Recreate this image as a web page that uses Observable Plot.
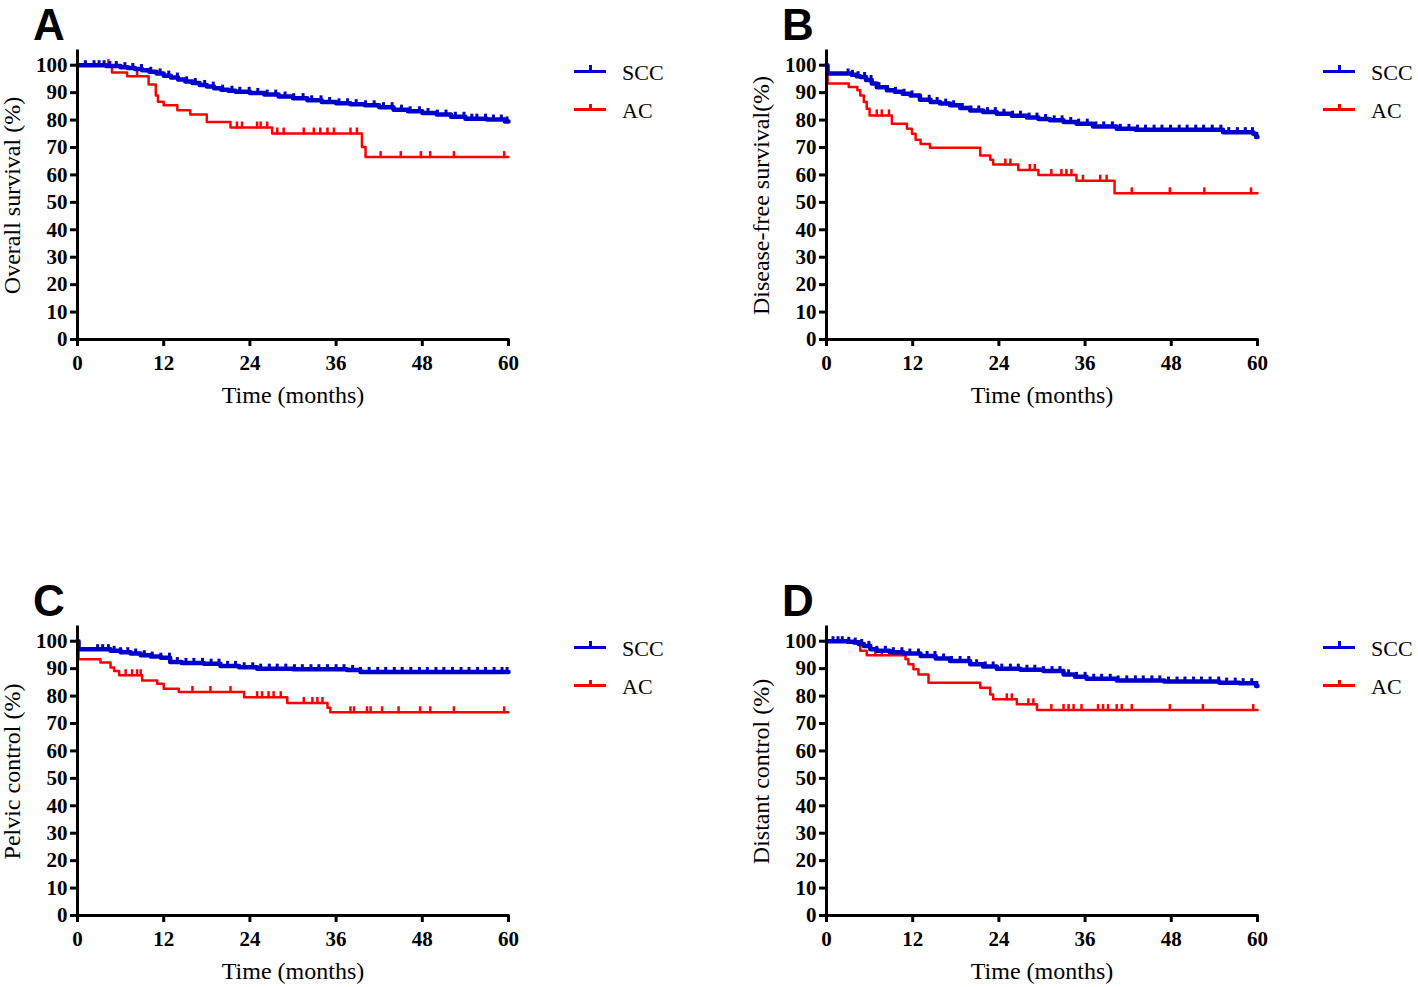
<!DOCTYPE html>
<html><head><meta charset="utf-8">
<script src="https://cdn.jsdelivr.net/npm/d3@7"></script>
<script src="https://cdn.jsdelivr.net/npm/@observablehq/plot@0.6"></script>
<style>
body{margin:0;background:#fff;}
#root{position:relative;width:1418px;height:987px;background:#fff;overflow:hidden;font-family:"Liberation Serif","Times New Roman",serif;}
.panel{position:absolute;width:709px;height:420px;}
.panel svg{max-width:none !important;width:709px;height:420px;}
.letter{position:absolute;font-family:"Liberation Sans",Arial,sans-serif;font-weight:bold;font-size:44px;line-height:38px;}
.sw{position:absolute;width:32px;height:3px;}
.tk{position:absolute;width:3px;height:7px;}
.lb{position:absolute;font-size:22px;line-height:1;color:#000;}
</style></head><body><div id="root"></div>
<script>
// ---------- shared labels ----------
const months = [0, 12, 24, 36, 48, 60];
const percentTicks = [0, 10, 20, 30, 40, 50, 60, 70, 80, 90, 100];
const groups = ["SCC", "AC"];
const groupColors = ["#0000cc", "#ff0000"];
const panelLetters = ["A", "B", "C", "D"];
const yTitles = ["Overall survival (%)", "Disease-free survival(%)", "Pelvic control (%)", "Distant control (%)"];
const xTitle = "Time (months)";

// ---------- A: overall survival ----------
const osSccTime = [0, 4, 6, 7, 8, 9, 10, 11, 12, 13, 14, 15, 16, 17, 18, 19, 20, 21, 22, 24, 26, 28, 30, 32, 34, 36, 38, 40, 42, 44, 46, 48, 50, 52, 54, 57, 59.5, 60];
const osSccSurv = [100, 99.7, 99.3, 99, 98.6, 98.2, 97.6, 97, 96.2, 95.5, 94.8, 94.1, 93.5, 92.8, 92.2, 91.6, 91.1, 90.7, 90.3, 89.9, 89.3, 88.6, 88, 87.2, 86.6, 86.1, 85.8, 85.4, 84.7, 83.8, 83.2, 82.6, 82, 81.2, 80.5, 80.2, 79.5, 79.5];
const osAcTime = [0, 4.8, 6.9, 9.9, 10.9, 11.2, 12, 13.9, 15.7, 18, 21.3, 27.1, 39.6, 40.1, 60];
const osAcSurv = [100, 97.3, 96, 93, 89, 86.7, 85.4, 83.6, 82, 79.3, 77.3, 75.1, 70.2, 66.5, 66.5];
const osSccCensor = [1.1, 2.3, 3.0, 3.7, 4.5, 5.4, 6.6, 7.7, 8.9, 10.2, 11.5, 12.7, 13.9, 15.2, 16.4, 17.7, 18.9, 20.2, 21.5, 22.6, 23.9, 25.1, 26.4, 27.6, 28.9, 30.1, 31.4, 32.6, 33.9, 35.1, 36.4, 37.6, 38.8, 40.1, 41.3, 42.6, 43.8, 45.1, 46.3, 47.6, 48.8, 50.1, 51.3, 52.6, 53.8, 54.9, 55.6, 56.8, 57.9, 59.0, 59.8];
const osAcCensor = [4.3, 8.3, 22.2, 22.9, 25.0, 25.5, 26.4, 27.8, 28.7, 31.5, 32.9, 33.8, 34.8, 35.7, 38.0, 38.9, 42.2, 45.0, 47.8, 49.1, 52.4, 59.4];

// ---------- B: disease-free survival ----------
const dfsSccTime = [0, 0.15, 2.9, 3.5, 4.2, 4.7, 5.5, 6.3, 7, 8.4, 9.5, 10.6, 11.7, 13, 14.5, 15.8, 17.2, 18.6, 20, 21.8, 23.7, 25.8, 27.9, 29.5, 31.1, 33, 34.8, 37.1, 40.4, 43, 55.2, 59.4, 59.8, 60];
const dfsSccSurv = [100, 97, 97, 96.5, 96, 95.7, 94.6, 93.3, 92, 90.9, 90.3, 89.6, 89, 87.4, 86.6, 86, 85.4, 84.4, 83.5, 82.9, 82.3, 81.6, 80.9, 80.4, 79.9, 79.3, 78.7, 77.7, 76.8, 76.5, 75.6, 75, 73.8, 73.8];
const dfsAcTime = [0, 0.15, 3.1, 4.3, 4.7, 5.2, 5.6, 6.0, 9.1, 11.2, 11.9, 12.4, 13.1, 14.4, 21.4, 22.8, 23.2, 26.7, 29.5, 34.8, 40.1, 60];
const dfsAcSurv = [100, 93.3, 92.1, 90.9, 89, 86.6, 84.1, 81.7, 78.7, 76.8, 75, 72.8, 71.3, 69.9, 67.1, 65.5, 63.8, 61.8, 60, 57.9, 53.3, 53.3];
const dfsSccCensor = [3.0, 3.6, 4.4, 5.3, 6.2, 7.3, 8.5, 9.6, 10.8, 11.9, 13.1, 14.3, 15.4, 16.6, 17.7, 18.9, 20.1, 21.2, 22.4, 23.5, 24.7, 25.9, 27.0, 28.2, 29.3, 30.5, 31.7, 32.8, 34.0, 35.1, 36.3, 37.5, 38.6, 39.8, 40.9, 42.1, 43.3, 44.4, 45.6, 46.7, 47.9, 49.1, 50.2, 51.4, 52.5, 53.7, 54.9, 56.0, 57.2, 58.3, 59.3, 59.9];
const dfsAcCensor = [7.0, 7.7, 8.7, 24.9, 25.6, 28.3, 29.0, 31.3, 32.7, 33.4, 34.1, 35.7, 38.1, 39.0, 42.5, 47.8, 52.6, 59.1];

// ---------- C: pelvic control ----------
const pcSccTime = [0, 0.15, 2.7, 4.6, 6, 7.4, 8.8, 10.2, 11.6, 12.9, 14.5, 17.6, 19.9, 22.5, 25, 30, 37.5, 39.4, 60];
const pcSccSurv = [100, 97.1, 97.1, 96.5, 96, 95.5, 94.9, 94.4, 94, 92.4, 92.1, 91.8, 91, 90.5, 90, 89.8, 89.5, 88.8, 88.8];
const pcAcTime = [0, 0.15, 3.2, 4.6, 5.1, 5.8, 9.0, 11.1, 12.0, 14.1, 23.2, 29.2, 34.8, 35.2, 60];
const pcAcSurv = [100, 93.4, 92.2, 90.4, 89.1, 87.6, 85.7, 84.5, 82.7, 81.5, 79.6, 77.5, 75.7, 74.1, 74.1];
const pcSccCensor = [2.8, 3.5, 4.3, 5.1, 6.0, 7.0, 8.1, 9.3, 10.4, 11.6, 12.8, 13.9, 15.1, 16.2, 17.4, 18.6, 19.7, 20.9, 22.0, 23.2, 24.4, 25.5, 26.7, 27.8, 29.0, 30.2, 31.3, 32.5, 33.6, 34.8, 36.0, 37.1, 38.3, 39.4, 40.6, 41.8, 42.9, 44.1, 45.2, 46.4, 47.6, 48.7, 49.9, 51.0, 52.2, 53.4, 54.5, 55.7, 56.8, 58.0, 59.1, 59.8];
const pcAcCensor = [6.7, 7.6, 8.3, 8.8, 16.0, 18.5, 21.3, 25.0, 25.7, 26.6, 27.3, 28.3, 31.5, 32.7, 33.4, 34.1, 38.0, 38.5, 40.3, 40.8, 42.4, 44.7, 47.7, 49.1, 52.4, 59.4];

// ---------- D: distant control ----------
const dcSccTime = [0, 2.9, 3.8, 4.5, 5.2, 6.1, 7, 8.8, 10.7, 13.1, 15.2, 17.2, 20, 21.8, 23.7, 27, 30.2, 33, 34.6, 36.2, 40.4, 47, 54.7, 57.5, 59.8, 60];
const dcSccSurv = [100, 99.8, 99.5, 99, 98.3, 97.1, 96.5, 96, 95.5, 94.6, 93.7, 92.8, 91.6, 90.8, 90, 89.6, 89.1, 87.9, 87, 86.3, 85.7, 85.3, 84.9, 84.7, 83.7, 83.7];
const dcAcTime = [0, 4.7, 5.6, 11, 11.4, 12.1, 12.8, 14.2, 21.4, 22.8, 23.2, 26.5, 29.3, 60];
const dcAcSurv = [100, 96.5, 94.9, 93.4, 91.6, 89.8, 87.9, 84.9, 83, 80.6, 78.8, 77, 74.9, 74.9];
const dcSccCensor = [0.9, 1.6, 2.2, 3.1, 4.0, 4.9, 5.9, 7.0, 8.2, 9.3, 10.5, 11.6, 12.8, 14.0, 15.1, 16.3, 17.4, 18.6, 19.8, 20.9, 22.1, 23.2, 24.4, 25.6, 26.7, 27.9, 29.0, 30.2, 31.4, 32.5, 33.7, 34.8, 36.0, 37.2, 38.3, 39.5, 40.6, 41.8, 43.0, 44.1, 45.3, 46.4, 47.6, 48.8, 49.9, 51.1, 52.2, 53.4, 54.6, 55.7, 56.9, 58.0, 59.2, 59.9];
const dcAcCensor = [6.8, 7.7, 8.9, 25.1, 25.8, 28.1, 28.8, 31.3, 33.0, 33.7, 34.4, 35.5, 37.8, 38.5, 39.2, 40.4, 41.1, 42.5, 47.8, 52.4, 59.4];

// ---------- assemble ----------
const panels = [
  {scc: [osSccTime, osSccSurv, osSccCensor], ac: [osAcTime, osAcSurv, osAcCensor]},
  {scc: [dfsSccTime, dfsSccSurv, dfsSccCensor], ac: [dfsAcTime, dfsAcSurv, dfsAcCensor]},
  {scc: [pcSccTime, pcSccSurv, pcSccCensor], ac: [pcAcTime, pcAcSurv, pcAcCensor]},
  {scc: [dcSccTime, dcSccSurv, dcSccCensor], ac: [dcAcTime, dcAcSurv, dcAcCensor]}
];
const offsets = [[0, 0], [749, 0], [0, 576], [749, 576]];

function steps(times, survs) { return times.map((t, i) => ({time: t, surv: survs[i]})); }
function censorRows(times, survs, cens) {
  return cens.map(c => {
    let v = survs[0];
    for (let i = 0; i < times.length; i++) if (times[i] <= c) v = survs[i];
    return {time: c, surv: v};
  });
}
const redTick = {draw(ctx) { ctx.moveTo(0, 1); ctx.lineTo(0, -6); }};
const blueTick = {draw(ctx) { ctx.moveTo(0, 1); ctx.lineTo(0, -5); }};

const root = document.getElementById("root");

panels.forEach((p, i) => {
  const [sT, sS, sC] = p.scc, [aT, aS, aC] = p.ac;
  const chart = Plot.plot({
    width: 709, height: 420,
    marginTop: 51, marginLeft: 77, marginRight: 201, marginBottom: 81,
    style: {fontFamily: "'Liberation Serif','Times New Roman',serif", background: "transparent", color: "#000", overflow: "visible"},
    x: {domain: [0, 60]},
    y: {domain: [0, 105]},
    marks: [
      Plot.axisX({ticks: months, tickSize: 7, tickPadding: 9, strokeWidth: 3, fontSize: 21, fontWeight: "bold", label: null}),
      Plot.axisY({ticks: percentTicks, tickSize: 7, tickPadding: 3, strokeWidth: 3, fontSize: 21, fontWeight: "bold", label: null}),
      Plot.line(steps(aT, aS), {x: "time", y: "surv", curve: "step-after", stroke: groupColors[1], strokeWidth: 2.5}),
      Plot.dot(censorRows(aT, aS, aC), {x: "time", y: "surv", symbol: redTick, stroke: groupColors[1], fill: "none", strokeWidth: 2.5}),
      Plot.line(steps(sT, sS), {x: "time", y: "surv", curve: "step-after", stroke: groupColors[0], strokeWidth: 4.5}),
      Plot.dot(censorRows(sT, sS, sC), {x: "time", y: "surv", symbol: blueTick, stroke: groupColors[0], fill: "none", strokeWidth: 3}),
      Plot.ruleX([0], {strokeWidth: 3, strokeLinecap: "square"}),
      Plot.ruleY([0], {strokeWidth: 3, strokeLinecap: "square"}),
      Plot.text([xTitle], {frameAnchor: "bottom", dy: 46, lineAnchor: "top", fontSize: 24}),
      Plot.text([yTitles[i]], {frameAnchor: "left", dx: -65, rotate: -90, textAnchor: "middle", lineAnchor: "middle", fontSize: 24})
    ]
  });
  const wrap = document.createElement("div");
  wrap.className = "panel";
  wrap.style.left = offsets[i][0] + "px";
  wrap.style.top = offsets[i][1] + "px";
  wrap.appendChild(chart);
  root.appendChild(wrap);

  const letter = document.createElement("div");
  letter.className = "letter";
  letter.textContent = panelLetters[i];
  letter.style.left = (offsets[i][0] + 33) + "px";
  letter.style.top = (offsets[i][1] + 6) + "px";
  root.appendChild(letter);

  groups.forEach((g, gi) => {
    const ly = offsets[i][1] + 71 + gi * 38.5;
    const sw = document.createElement("div");
    sw.className = "sw";
    sw.style.background = groupColors[gi];
    sw.style.left = (offsets[i][0] + 574) + "px";
    sw.style.top = (ly - 1.5) + "px";
    root.appendChild(sw);
    const tk = document.createElement("div");
    tk.className = "tk";
    tk.style.background = groupColors[gi];
    tk.style.left = (offsets[i][0] + 588.5) + "px";
    tk.style.top = (ly - 6) + "px";
    root.appendChild(tk);
    const lb = document.createElement("div");
    lb.className = "lb";
    lb.textContent = g;
    lb.style.left = (offsets[i][0] + 622) + "px";
    lb.style.top = (ly + 9 - 18.4) + "px";
    root.appendChild(lb);
  });
});
</script></body></html>
